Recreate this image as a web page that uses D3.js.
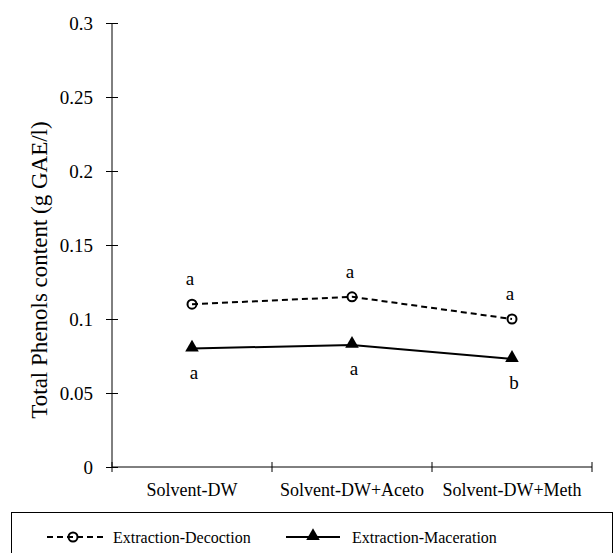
<!DOCTYPE html>
<html>
<head>
<meta charset="utf-8">
<script src="https://cdn.jsdelivr.net/npm/d3@7"></script>
<style>
  html, body { margin: 0; padding: 0; background: #fff; }
  svg { display: block; }
  svg text { font-family: "Liberation Serif", "Times New Roman", serif !important; fill: #000; }
</style>
</head>
<body>
<svg id="chart" width="614" height="553"></svg>
<script>
const categories = ["Solvent-DW", "Solvent-DW+Aceto", "Solvent-DW+Meth"];
const decoction = [0.110, 0.115, 0.100];
const maceration = [0.080, 0.0825, 0.073];
const decoctionLetters = ["a", "a", "a"];
const macerationLetters = ["a", "a", "b"];
const yTicks = [0, 0.05, 0.1, 0.15, 0.2, 0.25, 0.3];
const seriesNames = ["Extraction-Decoction", "Extraction-Maceration"];

const svg = d3.select("#chart");
const fs = 18;

const x = d3.scaleBand().domain(categories).range([112, 592]).padding(0);
const y = d3.scaleLinear().domain([0, 0.3]).range([467, 23]);
const cx = d => x(d) + x.bandwidth() / 2;

// Y axis
const yAxis = d3.axisLeft(y).tickValues(yTicks).tickSize(6).tickPadding(13)
  .tickFormat(d => d3.format("~g")(d));
const gy = svg.append("g").attr("transform", "translate(112,0)").call(yAxis)
  .attr("font-family", null).attr("font-size", null);
gy.select(".domain").attr("stroke", "#000").attr("d", `M0,${y(0.3)}V${y(0)}`);
gy.selectAll(".tick line").attr("x1", 6).attr("x2", -6).attr("stroke", "#000");
gy.selectAll(".tick text").style("font-size", "19px");

// X axis
const gx = svg.append("g").attr("transform", `translate(0,${y(0)})`);
gx.append("line").attr("x1", 112).attr("x2", 592).attr("y1", 0).attr("y2", 0).attr("stroke", "#000");
const boundaries = [112].concat(categories.map(c => x(c) + x.bandwidth()));
gx.selectAll("line.tk").data(boundaries).enter().append("line")
  .attr("class", "tk").attr("x1", d => d).attr("x2", d => d).attr("y1", -5).attr("y2", 5).attr("stroke", "#000");
gx.selectAll("text").data(categories).enter().append("text")
  .attr("x", d => cx(d)).attr("y", 29).attr("text-anchor", "middle")
  .style("font-size", fs + "px").text(d => d);

// Y label
svg.append("text")
  .attr("transform", "translate(47,270) rotate(-90)")
  .attr("text-anchor", "middle").style("font-size", "23px")
  .text("Total Phenols content (g GAE/l)");

// Lines
const line = d3.line().x((d, i) => cx(categories[i])).y(d => y(d));
svg.append("path").datum(decoction).attr("d", line).attr("fill", "none")
  .attr("stroke", "#000").attr("stroke-width", 2).attr("stroke-dasharray", "6,4");
svg.append("path").datum(maceration).attr("d", line).attr("fill", "none")
  .attr("stroke", "#000").attr("stroke-width", 2);

const tri = d3.symbol().type(d3.symbolTriangle).size(80);

svg.selectAll("circle.dec").data(decoction).enter().append("circle")
  .attr("class", "dec").attr("cx", (d, i) => cx(categories[i])).attr("cy", d => y(d))
  .attr("r", 4.5).attr("fill", "none").attr("stroke", "#000").attr("stroke-width", 2);
svg.selectAll("path.mac").data(maceration).enter().append("path")
  .attr("class", "mac").attr("d", tri)
  .attr("transform", (d, i) => `translate(${cx(categories[i])},${y(d) - 1})`)
  .attr("fill", "#000");

// Letters
svg.selectAll("text.ld").data(decoction).enter().append("text")
  .attr("class", "ld").attr("x", (d, i) => cx(categories[i]) - 2).attr("y", d => y(d) - 19)
  .attr("text-anchor", "middle").style("font-size", "19px").text((d, i) => decoctionLetters[i]);
svg.selectAll("text.lm").data(maceration).enter().append("text")
  .attr("class", "lm").attr("x", (d, i) => cx(categories[i]) + 2).attr("y", d => y(d) + 30)
  .attr("text-anchor", "middle").style("font-size", "19px").text((d, i) => macerationLetters[i]);

// Legend
svg.append("rect").attr("x", 11.5).attr("y", 512.5).attr("width", 601).attr("height", 50)
  .attr("fill", "none").attr("stroke", "#000");
const ly = 537;
const lg = svg.append("g");
lg.append("line").attr("x1", 47).attr("x2", 103).attr("y1", ly).attr("y2", ly)
  .attr("stroke", "#000").attr("stroke-width", 2).attr("stroke-dasharray", "6,4");
lg.append("circle").attr("cx", 73).attr("cy", ly).attr("r", 4.5)
  .attr("fill", "none").attr("stroke", "#000").attr("stroke-width", 2);
lg.append("text").attr("x", 113).attr("y", ly + 6).style("font-size", "16px").text(seriesNames[0]);
lg.append("line").attr("x1", 286).attr("x2", 340).attr("y1", ly).attr("y2", ly)
  .attr("stroke", "#000").attr("stroke-width", 2);
lg.append("path").attr("d", tri).attr("transform", `translate(313,${ly - 1})`).attr("fill", "#000");
lg.append("text").attr("x", 352).attr("y", ly + 6).style("font-size", "16px").text(seriesNames[1]);
</script>
</body>
</html>
